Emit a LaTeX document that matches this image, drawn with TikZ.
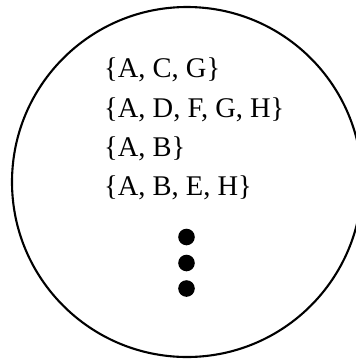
\documentclass[tikz,border=0pt]{standalone}
\usepackage{fontspec}
\setmainfont{Liberation Serif}
\begin{document}
\begin{tikzpicture}[x=1pt,y=-1pt,
  settext/.style={anchor=base west,inner sep=0pt,font=\fontsize{28.5}{32}\selectfont},
  dotmark/.style={fill=black,draw=none}]
\useasboundingbox (0,0) rectangle (356,360);
\clip (0,0) rectangle (356,360);
\draw[line width=2.1pt] (187,182) circle[radius=175];
\node[settext] (s1) at (104,77) {\{A, C, G\}};
\node[settext] (s2) at (104,117) {\{A, D, F, G, H\}};
\node[settext] (s3) at (104,156) {\{A, B\}};
\node[settext] (s4) at (104,195) {\{A, B, E, H\}};
\fill[dotmark] (186.5,237) circle[radius=8.3];
\fill[dotmark] (186.5,263) circle[radius=8.3];
\fill[dotmark] (186.5,288.5) circle[radius=8.3];
\end{tikzpicture}
\end{document}
